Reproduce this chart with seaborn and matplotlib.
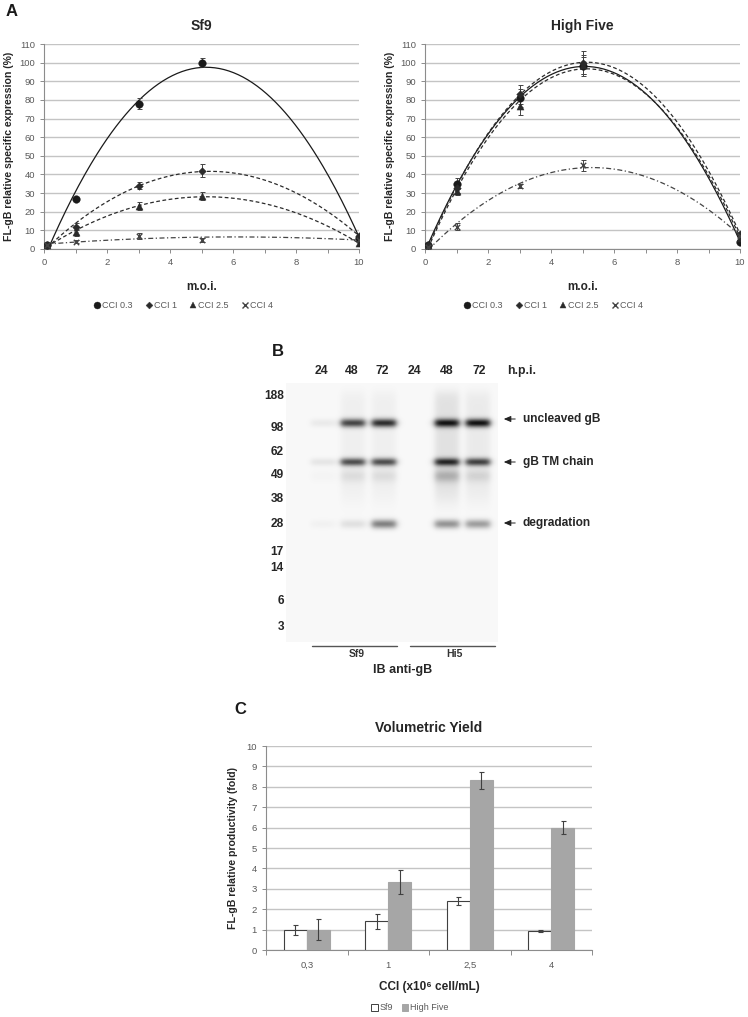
import numpy as np
import pandas as pd
import matplotlib
matplotlib.use("Agg")
import matplotlib.pyplot as plt
from matplotlib.lines import Line2D
from matplotlib.patches import Patch
import seaborn as sns

# ---------------- data ----------------
moi = [0.1, 1, 3, 5, 10]
cci_labels = ["CCI 0.3", "CCI 1", "CCI 2.5", "CCI 4"]

sf9_cci03 = [2, 27, 78, 100, 6]
sf9_cci1 = [2, 12, 34, 42, 7]
sf9_cci25 = [2, 9, 23, 28.5, 3]
sf9_cci4 = [2, 4, 7, 5, 5]
sf9_err03 = [0.5, 1, 3, 2.5, 1]
sf9_err1 = [0.5, 2, 2, 3.5, 1]
sf9_err25 = [0.5, 2, 2, 2, 1]
sf9_err4 = [0.5, 1, 1.5, 1, 1]

hf_cci03 = [2, 35, 81, 98, 4]
hf_cci1 = [2, 33, 83, 100, 8]
hf_cci25 = [2, 31, 77, 99, 6]
hf_cci4 = [1, 12, 34, 45, 7]
hf_err03 = [0.5, 3, 5, 5, 1]
hf_err1 = [0.5, 3, 5, 6, 1]
hf_err25 = [0.5, 2, 5, 5, 1]
hf_err4 = [0.5, 2, 1, 3, 1]

# western blot (panel B)
lane_hpi = ["24", "48", "72", "24", "48", "72"]
mw_markers = ["188", "98", "62", "49", "38", "28", "17", "14", "6", "3"]
band_names = ["uncleaved gB", "gB TM chain", "degradation"]
band_uncleaved = [0.06, 0.72, 0.82, 0.0, 0.88, 0.92]
band_tm = [0.08, 0.68, 0.68, 0.0, 0.80, 0.72]
band_49 = [0.02, 0.08, 0.08, 0.0, 0.22, 0.10]
band_degr = [0.03, 0.10, 0.50, 0.0, 0.42, 0.38]
lane_smear = [0.0, 0.04, 0.04, 0.0, 0.10, 0.06]

# volumetric yield (panel C)
cci_cat = ["0,3", "1", "2,5", "4"]
yield_sf9 = [1.0, 1.4, 2.42, 0.93]
yield_hf = [1.0, 3.33, 8.32, 6.0]
yield_sf9_err = [0.25, 0.35, 0.2, 0.07]
yield_hf_err = [0.5, 0.6, 0.42, 0.33]

# ---------------- style ----------------
sns.set_theme(style="white")
plt.rcParams["font.family"] = ["Liberation Sans", "DejaVu Sans"]

W, H = 748, 1017
fig = plt.figure(figsize=(W / 100, H / 100), dpi=100)


def frac(x0, y0, x1, y1):
    return [x0 / W, 1 - y1 / H, (x1 - x0) / W, (y1 - y0) / H]


TXT = "#262626"
TICK = "#595959"
GRID = "#c4c4c4"

# ---------------- panel A ----------------
styles = [
    dict(marker="o", ls="-", color="#1a1a1a", s=30),
    dict(marker="D", ls=(0, (3, 2)), color="#2b2b2b", s=15),
    dict(marker="^", ls=(0, (3, 2)), color="#2b2b2b", s=26),
    dict(marker="x", ls=(0, (4, 2, 1, 2)), color="#444444", s=15),
]


def panel_a(rect, title, series, errs):
    ax = fig.add_axes(rect)
    for vals, err, st in zip(series, errs, styles):
        coef = np.polyfit(moi, vals, 2)
        xs = np.linspace(min(moi), max(moi), 200)
        sns.lineplot(x=xs, y=np.polyval(coef, xs), ax=ax, color=st["color"],
                     linestyle=st["ls"], lw=0.9, zorder=3)
        ax.errorbar(moi, vals, yerr=err, fmt="none", ecolor="#444444",
                    elinewidth=0.7, capsize=1.8, capthick=0.7, zorder=4)
        sns.scatterplot(x=moi, y=vals, ax=ax, marker=st["marker"], s=st["s"],
                        color=st["color"], edgecolor=st["color"],
                        linewidth=1.0 if st["marker"] == "x" else 0.3, zorder=5)
    ax.set_xlim(0, 10)
    ax.set_ylim(0, 110)
    ax.set_yticks(range(0, 111, 10))
    ax.set_xticks(range(0, 11, 2))
    ax.set_xticks(range(0, 11, 1), minor=True)
    ax.yaxis.grid(True, color=GRID, lw=1.0)
    ax.set_axisbelow(True)
    for s in ["top", "right"]:
        ax.spines[s].set_visible(False)
    for s in ["left", "bottom"]:
        ax.spines[s].set_color("#8c8c8c")
        ax.spines[s].set_linewidth(0.8)
    ax.tick_params(axis="both", which="both", direction="out", colors="#8c8c8c",
                   labelcolor=TICK, labelsize=6.8, length=3, width=0.7,
                   bottom=True, left=True)
    ax.set_title(title, fontsize=10, fontweight="bold", color=TXT, pad=10)
    ax.set_xlabel("m.o.i.", fontsize=8.5, fontweight="bold", color=TXT, labelpad=10)
    ax.set_ylabel("FL-gB relative specific expression (%)", fontsize=7.6,
                  fontweight="bold", color=TXT, labelpad=4)
    return ax


ax1 = panel_a(frac(44, 44, 359, 249), "Sf9",
              [sf9_cci03, sf9_cci1, sf9_cci25, sf9_cci4],
              [sf9_err03, sf9_err1, sf9_err25, sf9_err4])
ax2 = panel_a(frac(425, 44, 740, 249), "High Five",
              [hf_cci03, hf_cci1, hf_cci25, hf_cci4],
              [hf_err03, hf_err1, hf_err25, hf_err4])

handles = [Line2D([], [], marker=st["marker"], ls="none", color=st["color"],
                  markersize=5 if st["marker"] != "D" else 3.5,
                  markeredgewidth=1.0 if st["marker"] == "x" else 0.3)
           for st in styles]
for cx in (183, 553):
    fig.legend(handles, cci_labels, loc="center", ncol=4, frameon=False,
               bbox_to_anchor=(cx / W, 1 - 306 / H), fontsize=6.5,
               handletextpad=0.05, columnspacing=1.3, handlelength=1.0,
               labelcolor=TICK)

# ---------------- panel B (blot) ----------------
axb = fig.add_axes(frac(286, 383, 498, 642))
bx0, bx1, by0, by1 = 286, 498, 383, 642
xx, yy = np.meshgrid(np.arange(bx0, bx1) + 0.5, np.arange(by0, by1) + 0.5)
lane_x = [323, 353, 384, 415, 447, 478]
lane_w = 24
img = np.full(xx.shape, 0.03)


def lane_prof(c, w, soft=1.8):
    return 1 / (1 + np.exp(-(xx - (c - w / 2)) / soft)) / (1 + np.exp((xx - (c + w / 2)) / soft))


def band_prof(yc, sig):
    return np.exp(-0.5 * ((yy - yc) / sig) ** 2)


for i, c in enumerate(lane_x):
    lp = lane_prof(c, lane_w)
    img += lp * (band_uncleaved[i] * band_prof(423, 3.0)
                 + band_tm[i] * band_prof(462, 2.8)
                 + band_49[i] * band_prof(476, 4.5)
                 + band_degr[i] * band_prof(524, 3.2))
    smear = lane_smear[i] / (1 + np.exp(-(yy - 392) / 3)) / (1 + np.exp((yy - 500) / 6))
    img += lp * smear
img = np.clip(img, 0, 1)
axb.imshow(img, cmap="gray_r", vmin=0, vmax=1.08, aspect="auto",
           extent=[bx0, bx1, by1, by0], interpolation="bilinear")
axb.set_xlim(bx0, bx1)
axb.set_ylim(by1, by0)
axb.set_axis_off()

# ---------------- overlay for free text (pixel coords) ----------------
ov = fig.add_axes([0, 0, 1, 1])
ov.set_xlim(0, W)
ov.set_ylim(H, 0)
ov.set_axis_off()
ov.patch.set_alpha(0)

ov.text(6, 12, "A", fontsize=12, fontweight="bold", color="#1a1a1a", va="center")
ov.text(272, 352, "B", fontsize=12, fontweight="bold", color="#1a1a1a", va="center")
ov.text(234, 710, "C", fontsize=12, fontweight="bold", color="#1a1a1a", va="center")

lane_lbl_x = [321, 352, 382, 414, 447, 479]
for x, t in zip(lane_lbl_x, lane_hpi):
    ov.text(x, 371, t, fontsize=8.8, fontweight="bold", ha="center", va="center", color=TXT)
ov.text(507, 371, "h.p.i.", fontsize=8.8, fontweight="bold", ha="left", va="center", color=TXT)

mw_y = [396, 428, 452, 475, 499, 524, 552, 568, 601, 627]
for y, t in zip(mw_y, mw_markers):
    ov.text(284, y, t, fontsize=8.6, fontweight="bold", ha="right", va="center", color=TXT)

for y, t in zip([419, 462, 523], band_names):
    ov.annotate("", xy=(501, y), xytext=(518, y),
                arrowprops=dict(arrowstyle="-|>,head_length=0.35,head_width=0.15",
                                color="#222222", lw=0.7))
    ov.text(523, y, t, fontsize=8.6, fontweight="bold", ha="left", va="center", color=TXT)

ov.plot([312, 397], [646, 646], color="#555555", lw=1.0)
ov.plot([410, 495], [646, 646], color="#555555", lw=1.0)
ov.text(357, 654, "Sf9", fontsize=7.5, fontweight="bold", ha="center", va="center", color="#333333")
ov.text(454, 654, "Hi5", fontsize=7.5, fontweight="bold", ha="center", va="center", color="#333333")
ov.text(403, 670, "IB anti-gB", fontsize=9, fontweight="bold", ha="center", va="center", color=TXT)

# ---------------- panel C ----------------
axc = fig.add_axes(frac(266, 746, 592, 950))
dfc = pd.DataFrame({
    "CCI": cci_cat * 2,
    "value": yield_sf9 + yield_hf,
    "cell": ["Sf9"] * 4 + ["High Five"] * 4,
})
sns.barplot(data=dfc, x="CCI", y="value", hue="cell", ax=axc,
            palette={"Sf9": "white", "High Five": "#a6a6a6"},
            width=0.565, errorbar=None, legend=False, zorder=3)
for cont, errs, ec in zip(axc.containers, [yield_sf9_err, yield_hf_err], ["#404040", "#a6a6a6"]):
    for bar, e in zip(cont, errs):
        bar.set_edgecolor(ec)
        bar.set_linewidth(0.8)
        axc.errorbar(bar.get_x() + bar.get_width() / 2, bar.get_height(), yerr=e,
                     fmt="none", ecolor="#404040", elinewidth=0.8, capsize=1.8,
                     capthick=0.8, zorder=4)
axc.set_ylim(0, 10)
axc.set_xlim(-0.5, 3.5)
axc.set_yticks(range(0, 11))
axc.set_xticks([-0.5, 0.5, 1.5, 2.5, 3.5], minor=True)
axc.yaxis.grid(True, color=GRID, lw=1.0)
axc.set_axisbelow(True)
for s in ["top", "right"]:
    axc.spines[s].set_visible(False)
for s in ["left", "bottom"]:
    axc.spines[s].set_color("#8c8c8c")
    axc.spines[s].set_linewidth(0.8)
axc.tick_params(axis="x", which="major", length=0, labelsize=6.8, labelcolor=TICK, pad=8)
axc.tick_params(axis="x", which="minor", length=3.5, width=0.7, colors="#8c8c8c", bottom=True)
axc.tick_params(axis="y", which="major", length=3, width=0.7, colors="#8c8c8c",
                labelcolor=TICK, labelsize=6.8, left=True)
axc.set_title("Volumetric Yield", fontsize=10, fontweight="bold", color=TXT, pad=10)
axc.set_xlabel("CCI (x10\u2076 cell/mL)", fontsize=8.5, fontweight="bold", color=TXT, labelpad=8)
axc.set_ylabel("FL-gB relative productivity (fold)", fontsize=7.6, fontweight="bold",
               color=TXT, labelpad=6)

leg_handles = [Patch(facecolor="white", edgecolor="#404040", lw=0.7),
               Patch(facecolor="#a6a6a6", edgecolor="#a6a6a6", lw=0.7)]
fig.legend(leg_handles, ["Sf9", "High Five"], loc="center", ncol=2, frameon=False,
           bbox_to_anchor=(410 / W, 1 - 1008 / H), fontsize=6.5, handlelength=0.7,
           handleheight=0.9, handletextpad=0.2, columnspacing=1.0, labelcolor=TICK)

fig.savefig("out.png", dpi=100)
